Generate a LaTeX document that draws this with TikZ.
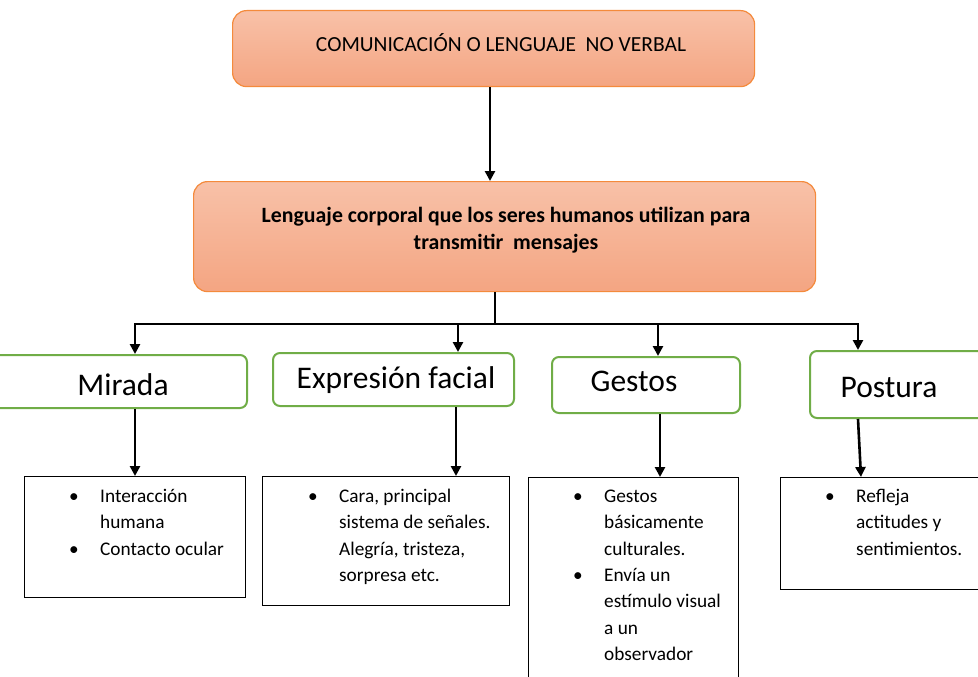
\documentclass[tikz,border=0pt]{standalone}
\usepackage{fontspec}
\setmainfont{Carlito}
\usetikzlibrary{arrows.meta}
\definecolor{salmonT}{HTML}{F8C1A8}
\definecolor{salmonB}{HTML}{F4A582}
\definecolor{orangeB}{HTML}{F48A3C}
\definecolor{greenB}{HTML}{70AD47}
\tikzset{
  mainbox/.style={draw=orangeB, line width=1.2pt, rounded corners=14pt, top color=salmonT, bottom color=salmonB, inner sep=0pt},
  catbox/.style={draw=greenB, line width=2pt, rounded corners=7pt, fill=white, inner sep=0pt},
  infobox/.style={draw=black, line width=0.9pt, fill=white, inner sep=0pt},
  conn/.style={line width=2.6pt, black},
  arr/.style={conn, -{Triangle[length=10pt,width=10pt]}},
  cattext/.style={font=\fontsize{31.5}{36}\selectfont, inner sep=0pt, anchor=base},
  listtext/.style={font=\fontsize{19.3}{26.3}\selectfont, inner sep=0pt, anchor=north west, align=left},
}
\newcommand{\bul}{\makebox[31pt][l]{\textbullet}}
\newcommand{\ind}{\hspace*{31pt}}
\begin{document}
\begin{tikzpicture}[x=1pt,y=-1pt]
\useasboundingbox (0,0) rectangle (978,677);
\fill[white] (0,0) rectangle (978,677);
\begin{scope}
\clip (0,0) rectangle (978,677);
% top boxes
\node[mainbox, minimum width=522pt, minimum height=76pt, anchor=north west] (top) at (232,10) {};
\node[font=\fontsize{21.5}{26}\selectfont, inner sep=0pt, anchor=base] (toptext) at (501,52) {COMUNICACIÓN O LENGUAJE \ NO VERBAL};
\node[mainbox, minimum width=622pt, minimum height=110pt, anchor=north west] (body) at (193,181) {};
\node[font=\bfseries\fontsize{21.8}{26.5}\selectfont, inner sep=0pt, align=center, anchor=north] (bodytext) at (506,207) {Lenguaje corporal que los seres humanos utilizan para\\transmitir \ mensajes};
% category boxes
\node[catbox, minimum width=266pt, minimum height=53pt, anchor=north west] (mirada) at (-20,354) {};
\node[catbox, minimum width=241pt, minimum height=53pt, anchor=north west] (expr) at (272,352) {};
\node[catbox, minimum width=188pt, minimum height=56pt, anchor=north west] (gestos) at (551,356) {};
\node[catbox, minimum width=200pt, minimum height=67pt, anchor=north west] (postura) at (809,350) {};
\node[cattext] (tmirada) at (123,395) {Mirada};
\node[cattext] (texpr) at (396,388) {Expresión facial};
\node[cattext] (tgestos) at (634,391) {Gestos};
\node[cattext] (tpostura) at (889,397) {Postura};
% info boxes
\node[infobox, minimum width=221pt, minimum height=121pt, anchor=north west] (info1) at (24,476) {};
\node[infobox, minimum width=247pt, minimum height=129pt, anchor=north west] (info2) at (262,476) {};
\node[infobox, minimum width=210pt, minimum height=220pt, anchor=north west] (info3) at (528,477) {};
\node[infobox, minimum width=220pt, minimum height=112pt, anchor=north west] (info4) at (780,477) {};
\node[listtext] (l1) at (69,484) {\strut\bul Interacción\\\ind humana\\\bul Contacto ocular};
\node[listtext] (l2) at (308,484) {\strut\bul Cara, principal\\\ind sistema de señales.\\\ind Alegría, tristeza,\\\ind sorpresa etc.};
\node[listtext] (l3) at (573,484) {\strut\bul Gestos\\\ind básicamente\\\ind culturales.\\\bul Envía un\\\ind estímulo visual\\\ind a un\\\ind observador};
\node[listtext] (l4) at (825,484) {\strut\bul Refleja\\\ind actitudes y\\\ind sentimientos.};
\end{scope}
% connectors
\draw[arr] (top.south -| 490,0) -- (body.north -| 490,0);
\coordinate (hub) at (495,324);
\coordinate (hl) at (135,324);
\coordinate (hr) at (858,324);
\draw[conn] (body.south -| hub) -- (hub);
\draw[conn, line cap=rect] (hl) -- (hr);
\draw[arr] (hl) -- (mirada.north -| hl);
\draw[arr] (458,324) -- (expr.north -| 458,0);
\draw[arr] (658,324) -- (gestos.north -| 658,0);
\draw[arr] (hr) -- (postura.north -| hr);
\draw[arr] (mirada.south -| 135,0) -- (info1.north -| 135,0);
\draw[arr] (expr.south -| 456,0) -- (info2.north -| 456,0);
\draw[arr] (gestos.south -| 660,0) -- (info3.north -| 660,0);
\draw[arr] (postura.south -| 858,0) -- (info4.north -| 861,0);
\end{tikzpicture}
\end{document}
